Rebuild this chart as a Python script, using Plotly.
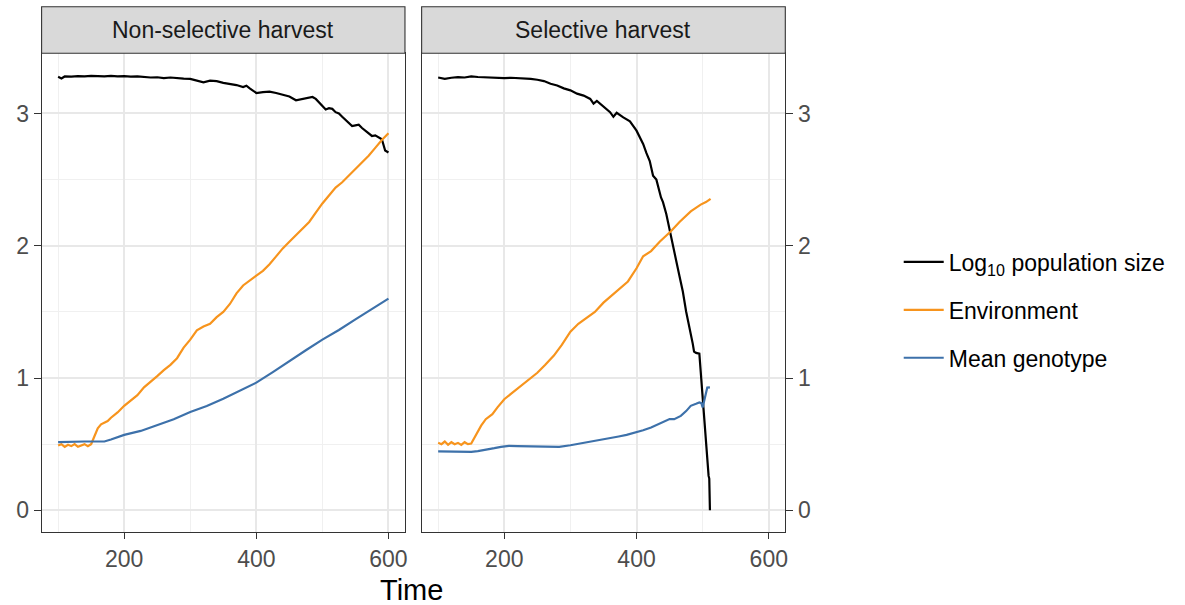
import plotly.graph_objects as go

# ---------------- data ----------------
panels = ["Non-selective harvest", "Selective harvest"]
series_names = ["Log<sub>10</sub> population size", "Environment", "Mean genotype"]
series_colors = ["#000000", "#F7941D", "#3D71AA"]

# Non-selective harvest
ns_pop_t = [100, 105, 110, 120, 130, 140, 150, 160, 170, 180, 190, 200, 210, 220, 230, 240, 250, 260,
            270, 280, 290, 300, 310, 320, 330, 340, 350, 360, 370, 380, 385, 390, 400, 410, 420, 430,
            440, 450, 460, 470, 480, 485, 490, 500, 505, 510, 515, 520, 525, 530, 540, 545, 550, 555,
            560, 570, 575, 580, 585, 590, 595, 600]
ns_pop_v = [3.277, 3.265, 3.28, 3.278, 3.282, 3.28, 3.285, 3.283, 3.281, 3.285, 3.28, 3.283, 3.278,
            3.281, 3.275, 3.272, 3.274, 3.268, 3.272, 3.266, 3.264, 3.262, 3.25, 3.236, 3.248, 3.244,
            3.232, 3.226, 3.215, 3.2, 3.21, 3.19, 3.155, 3.162, 3.165, 3.155, 3.14, 3.128, 3.1, 3.108,
            3.12, 3.125, 3.11, 3.06, 3.03, 3.04, 3.035, 3.01, 3.0, 2.975, 2.93, 2.905, 2.91, 2.915,
            2.89, 2.85, 2.83, 2.835, 2.82, 2.805, 2.72, 2.705]

ns_env_t = [100, 105, 110, 115, 120, 125, 130, 135, 140, 145, 150, 155, 160, 165, 170, 175, 180, 190,
            200, 210, 220, 230, 240, 250, 260, 270, 280, 290, 300, 310, 320, 330, 340, 350, 360, 370,
            380, 390, 400, 410, 420, 430, 440, 450, 460, 470, 480, 490, 500, 510, 520, 530, 540, 550,
            560, 570, 580, 590, 600]
ns_env_v = [0.49, 0.5, 0.48, 0.495, 0.485, 0.5, 0.48, 0.49, 0.5, 0.485, 0.5, 0.56, 0.62, 0.65, 0.66,
            0.675, 0.7, 0.74, 0.79, 0.83, 0.87, 0.93, 0.97, 1.015, 1.06, 1.1, 1.15, 1.23, 1.29, 1.36,
            1.39, 1.41, 1.46, 1.5, 1.56, 1.64, 1.7, 1.74, 1.775, 1.81, 1.86, 1.92, 1.98, 2.03, 2.08,
            2.13, 2.18, 2.25, 2.32, 2.38, 2.44, 2.48, 2.53, 2.58, 2.63, 2.68, 2.74, 2.8, 2.85]

ns_gen_t = [100, 120, 140, 160, 170, 180, 190, 200, 225, 250, 275, 300, 325, 350, 375, 400, 425, 450,
            475, 500, 525, 550, 575, 600]
ns_gen_v = [0.515, 0.52, 0.52, 0.52, 0.52, 0.535, 0.555, 0.57, 0.6, 0.642, 0.688, 0.743, 0.789, 0.844,
            0.902, 0.965, 1.045, 1.13, 1.21, 1.29, 1.363, 1.444, 1.519, 1.6]

# Selective harvest
s_pop_t = [100, 105, 110, 120, 130, 140, 150, 160, 170, 180, 190, 200, 210, 220, 230, 240, 250, 260,
           270, 280, 290, 300, 310, 320, 330, 335, 340, 350, 360, 365, 370, 380, 390, 400, 405, 410,
           415, 420, 425, 430, 437, 440, 445, 450, 455, 460, 465, 470, 475, 480, 485, 487, 490, 495,
           497, 500, 503, 505, 507, 509, 510, 511]
s_pop_v = [3.272, 3.268, 3.262, 3.27, 3.275, 3.272, 3.28, 3.276, 3.274, 3.27, 3.272, 3.268, 3.27,
           3.268, 3.265, 3.262, 3.255, 3.245, 3.225, 3.212, 3.19, 3.175, 3.15, 3.135, 3.11, 3.075,
           3.095, 3.05, 3.01, 2.975, 3.005, 2.97, 2.94, 2.87, 2.82, 2.77, 2.7, 2.64, 2.53, 2.5,
           2.365, 2.33, 2.24, 2.13, 2.013, 1.887, 1.77, 1.654, 1.503, 1.39, 1.26, 1.2, 1.19, 1.185,
           1.05, 0.8, 0.6, 0.5, 0.33, 0.26, 0.24, 0.0]

s_env_t = [100, 105, 110, 115, 120, 125, 130, 135, 140, 145, 150, 155, 160, 165, 172, 182, 190, 200,
           210, 222, 237, 250, 262, 275, 287, 300, 312, 325, 337, 350, 362, 375, 387, 400, 410, 422,
           435, 452, 465, 482, 497, 505, 512]
s_env_v = [0.51, 0.5, 0.52, 0.495, 0.515, 0.5, 0.51, 0.495, 0.515, 0.5, 0.505, 0.55, 0.6, 0.64,
           0.689, 0.727, 0.78, 0.84, 0.88, 0.928, 0.99, 1.04, 1.1, 1.17, 1.25, 1.351, 1.41, 1.46,
           1.5, 1.57, 1.62, 1.68, 1.73, 1.83, 1.92, 1.96, 2.03, 2.109, 2.18, 2.26, 2.311, 2.33, 2.355]

s_gen_t = [100, 120, 140, 150, 160, 172, 185, 195, 207, 220, 235, 248, 260, 270, 283, 300, 315, 333,
           350, 362, 373, 385, 400, 410, 422, 432, 442, 450, 457, 462, 467, 475, 482, 490, 495, 498,
           500, 502, 504, 507, 511]
s_gen_v = [0.445, 0.442, 0.44, 0.442, 0.448, 0.457, 0.47, 0.48, 0.487, 0.485, 0.483, 0.48, 0.478,
           0.478, 0.48, 0.492, 0.505, 0.518, 0.535, 0.548, 0.558, 0.57, 0.588, 0.605, 0.626, 0.65,
           0.676, 0.69, 0.689, 0.70, 0.714, 0.75, 0.79, 0.805, 0.815, 0.81, 0.777, 0.82, 0.86,
           0.928, 0.93]

x_ticks = [200, 400, 600]
y_ticks = [0, 1, 2, 3]
x_title = "Time"

# ---------------- figure ----------------
W, H = 1185, 605
FONT = "Liberation Sans, Arial, sans-serif"
fig = go.Figure()

panel_data = [
    [(ns_pop_t, ns_pop_v), (ns_env_t, ns_env_v), (ns_gen_t, ns_gen_v)],
    [(s_pop_t, s_pop_v), (s_env_t, s_env_v), (s_gen_t, s_gen_v)],
]
for p, data in enumerate(panel_data):
    xa = "x" if p == 0 else "x2"
    ya = "y" if p == 0 else "y2"
    for i, (t, v) in enumerate(data):
        fig.add_trace(go.Scatter(
            x=t, y=v, mode="lines", name=series_names[i],
            line=dict(color=series_colors[i], width=2.2),
            xaxis=xa, yaxis=ya, showlegend=(p == 0), legendgroup=str(i),
        ))

px_x = lambda x: x / W
px_y = lambda y: 1 - y / H

xdom1 = [px_x(41.7), px_x(406)]
xdom2 = [px_x(422.7), px_x(787.3)]
ydom = [px_y(532), px_y(53.3)]

common_x = dict(range=[75, 625], tickvals=x_ticks, ticks="outside", ticklen=6, tickwidth=1.1,
                tickcolor="#333333", showline=True, mirror=True, linecolor="#333333", linewidth=1.1,
                showgrid=True, gridcolor="#E8E8E8", gridwidth=1.5, zeroline=False,
                tickfont=dict(family=FONT, size=23, color="#4D4D4D"),
                minor=dict(dtick=100, tick0=0, showgrid=True, gridcolor="#F0F0F0", gridwidth=0.8, ticks=""))
common_y = dict(range=[-0.164, 3.455], tickvals=y_ticks, ticks="outside", ticklen=7, tickwidth=1.1,
                tickcolor="#333333", showline=True, mirror=True, linecolor="#333333", linewidth=1.1,
                showgrid=True, gridcolor="#E8E8E8", gridwidth=1.5, zeroline=False,
                tickfont=dict(family=FONT, size=23, color="#4D4D4D"),
                minor=dict(dtick=0.5, tick0=0, showgrid=True, gridcolor="#F0F0F0", gridwidth=0.8, ticks=""))

fig.update_layout(
    width=W, height=H, margin=dict(l=0, r=0, t=0, b=0),
    plot_bgcolor="white", paper_bgcolor="white",
    xaxis=dict(domain=xdom1, anchor="y", **common_x),
    xaxis2=dict(domain=xdom2, anchor="y2", **common_x),
    yaxis=dict(domain=ydom, anchor="x", side="left", **common_y),
    yaxis2=dict(domain=ydom, anchor="x2", side="right", **common_y),
    legend=dict(x=px_x(901), y=px_y(310), xanchor="left", yanchor="middle",
                font=dict(family=FONT, size=23, color="#000000"),
                tracegroupgap=15, traceorder="grouped", bgcolor="rgba(0,0,0,0)",
                itemwidth=40),
    font=dict(family=FONT),
)

# strips
for dom, label in zip([xdom1, xdom2], panels):
    fig.add_shape(type="rect", xref="paper", yref="paper", x0=dom[0], x1=dom[1],
                  y0=px_y(53.3), y1=px_y(6.7), fillcolor="#D9D9D9",
                  line=dict(color="#333333", width=1.1))
    fig.add_annotation(xref="paper", yref="paper", x=(dom[0] + dom[1]) / 2, y=px_y(30),
                       text=label, showarrow=False, xanchor="center", yanchor="middle",
                       font=dict(family=FONT, size=23, color="#1A1A1A"))

fig.add_annotation(xref="paper", yref="paper", x=px_x(413), y=px_y(590), text=x_title,
                   showarrow=False, xanchor="center", yanchor="middle",
                   font=dict(family=FONT, size=29, color="#000000"))

fig.write_html("out.html", config={"displayModeBar": False},
               post_script="document.body.style.margin='0';")
